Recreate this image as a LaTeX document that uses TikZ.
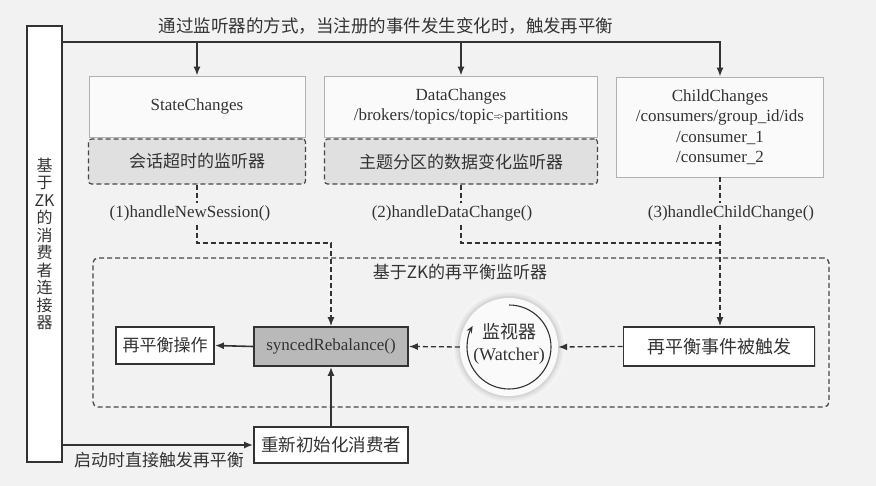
\documentclass[tikz,border=0pt]{standalone}
\usepackage{fontspec}
\setmainfont{Liberation Serif}
\newfontfamily\cjk{Noto Sans CJK SC}
\usetikzlibrary{arrows.meta,shadows}
\definecolor{bg}{HTML}{F2F2F2}
\definecolor{ink}{HTML}{333333}
\definecolor{topfill}{HTML}{FAFAFA}
\definecolor{topline}{HTML}{B0B0B0}
\definecolor{dfill}{HTML}{E0E0E0}
\definecolor{syncfill}{HTML}{B9B9B9}
\newcommand\myfs[2]{\fontsize{#1pt}{#2pt}\selectfont}
\begin{document}
\begin{tikzpicture}[x=1pt,y=1pt,
  every node/.style={text=ink, inner sep=0pt},
  topbox/.style={draw=topline, fill=topfill, line width=0.8pt, align=center, font=\myfs{17}{20.5}},
  dbox/.style={draw=ink!90, fill=dfill, line width=1.2pt, dash pattern=on 5pt off 3pt, rounded corners=3pt, font=\cjk\myfs{17}{20}},
  sbox/.style={draw=ink, line width=1.8pt, fill=white, drop shadow={opacity=0.25, shadow xshift=1.2pt, shadow yshift=-1.2pt}},
  lbl/.style={fill=bg, inner sep=2pt, font=\myfs{17}{20}},
  solidln/.style={draw=ink, line width=1.6pt},
  arr/.style={solidln, -{Latex[length=9pt,width=7pt]}},
  dline/.style={draw=ink, line width=1.3pt, dash pattern=on 5pt off 3pt},
  darr/.style={dline, -{Latex[length=9pt,width=7pt]}},
]
\fill[bg] (0,0) rectangle (876,486);
\useasboundingbox (0,0) rectangle (876,486);

% left connector box
\node[sbox, minimum width=35pt, minimum height=436pt] (zk) at (44.5,242) {};
\node[font=\cjk\myfs{16}{17.5}, align=center] (zkl) at (zk) {基\\于\\ZK\\的\\消\\费\\者\\连\\接\\器};

% title
\node[font=\cjk\myfs{17.5}{20}] (title) at (386,460) {通过监听器的方式，当注册的事件发生变化时，触发再平衡};

% top boxes
\node[topbox, minimum width=216pt, minimum height=61pt] (sc) at (197,379.5) {StateChanges};
\node[topbox, minimum width=273pt, minimum height=61pt] (dc) at (461,379.5) {DataChanges\\/brokers/topics/topic{\myfs{11}{11}=\kern-2pt>}partitions};
\node[topbox, minimum width=207pt, minimum height=100pt] (cc) at (720,359) {ChildChanges\\/consumers/group\_id/ids\\/consumer\_1\\/consumer\_2};

% dashed listener boxes
\node[dbox, minimum width=217pt, minimum height=45pt] (d1) at (197,324.5) {会话超时的监听器};
\node[dbox, minimum width=273pt, minimum height=45pt] (d2) at (461,324.5) {主题分区的数据变化监听器};

% big dashed box
\node[draw=ink!90, line width=1.3pt, dash pattern=on 5pt off 3pt, rounded corners=5pt, minimum width=736pt, minimum height=149pt] (rb) at (461,153.5) {};
\node[font=\cjk\myfs{17}{20}] (rbl) at (460,214) {基于ZK的再平衡监听器};

% inner boxes
\node[sbox, minimum width=98pt, minimum height=37pt, font=\cjk\myfs{17}{20}] (op) at (165,140.5) {再平衡操作};
\node[sbox, fill=syncfill, minimum width=154pt, minimum height=39pt, font=\myfs{17}{20}] (sync) at (331,139.5) {syncedRebalance()};

% watcher
\foreach \r/\c in {57/8,55/14,53/22,51/32} \fill[gray!\c] (509,139) circle[radius=\r];
\node[circle, fill=topfill, minimum size=98pt] (w) at (509,139) {};
\draw[ink, line width=1.1pt, -{Stealth[length=7pt,width=6pt]}] ([shift={(90:42)}]w.center) arc[start angle=90, end angle=-210, radius=42];
\node[align=center, font=\myfs{18}{22}] (wl) at (509,142) {{\cjk 监视器}\\(Watcher)};

\node[sbox, minimum width=191pt, minimum height=39pt, font=\cjk\myfs{18}{20}] (ev) at (719,139.5) {再平衡事件被触发};
\node[sbox, minimum width=154pt, minimum height=36pt, font=\cjk\myfs{17.5}{20}] (init) at (331,41) {重新初始化消费者};

% top connectors
\draw[arr] (zk.east |- 0,444) -- (cc.north |- 0,444) -- (cc.north);
\draw[arr] (sc.north |- 0,444) -- (sc.north);
\draw[arr] (dc.north |- 0,444) -- (dc.north);

% dashed connectors
\draw[darr] (d1.south) -- (d1.south |- 0,243) -| (sync.north);
\draw[dline] (d2.south) -- (d2.south |- 0,243) -- (cc.south |- 0,243);
\draw[darr] (cc.south) -- (cc.south |- ev.north);

\node[lbl] (h1) at (190,273) {(1)handleNewSession()};
\node[lbl] (h2) at (452,273) {(2)handleDataChange()};
\node[lbl] (h3) at (731,273) {(3)handleChildChange()};

% inner connectors
\draw[arr] (sync.west) -- (op.east);
\draw[darr] (w.west) -- (sync.east);
\draw[darr] (ev.west) -- (w.east);
\draw[arr] (init.north) -- (sync.south);
\draw[arr] (zk.east |- init.west) -- (init.west);
\node[font=\cjk\myfs{17}{20}] (st) at (159,26) {启动时直接触发再平衡};
\end{tikzpicture}
\end{document}
